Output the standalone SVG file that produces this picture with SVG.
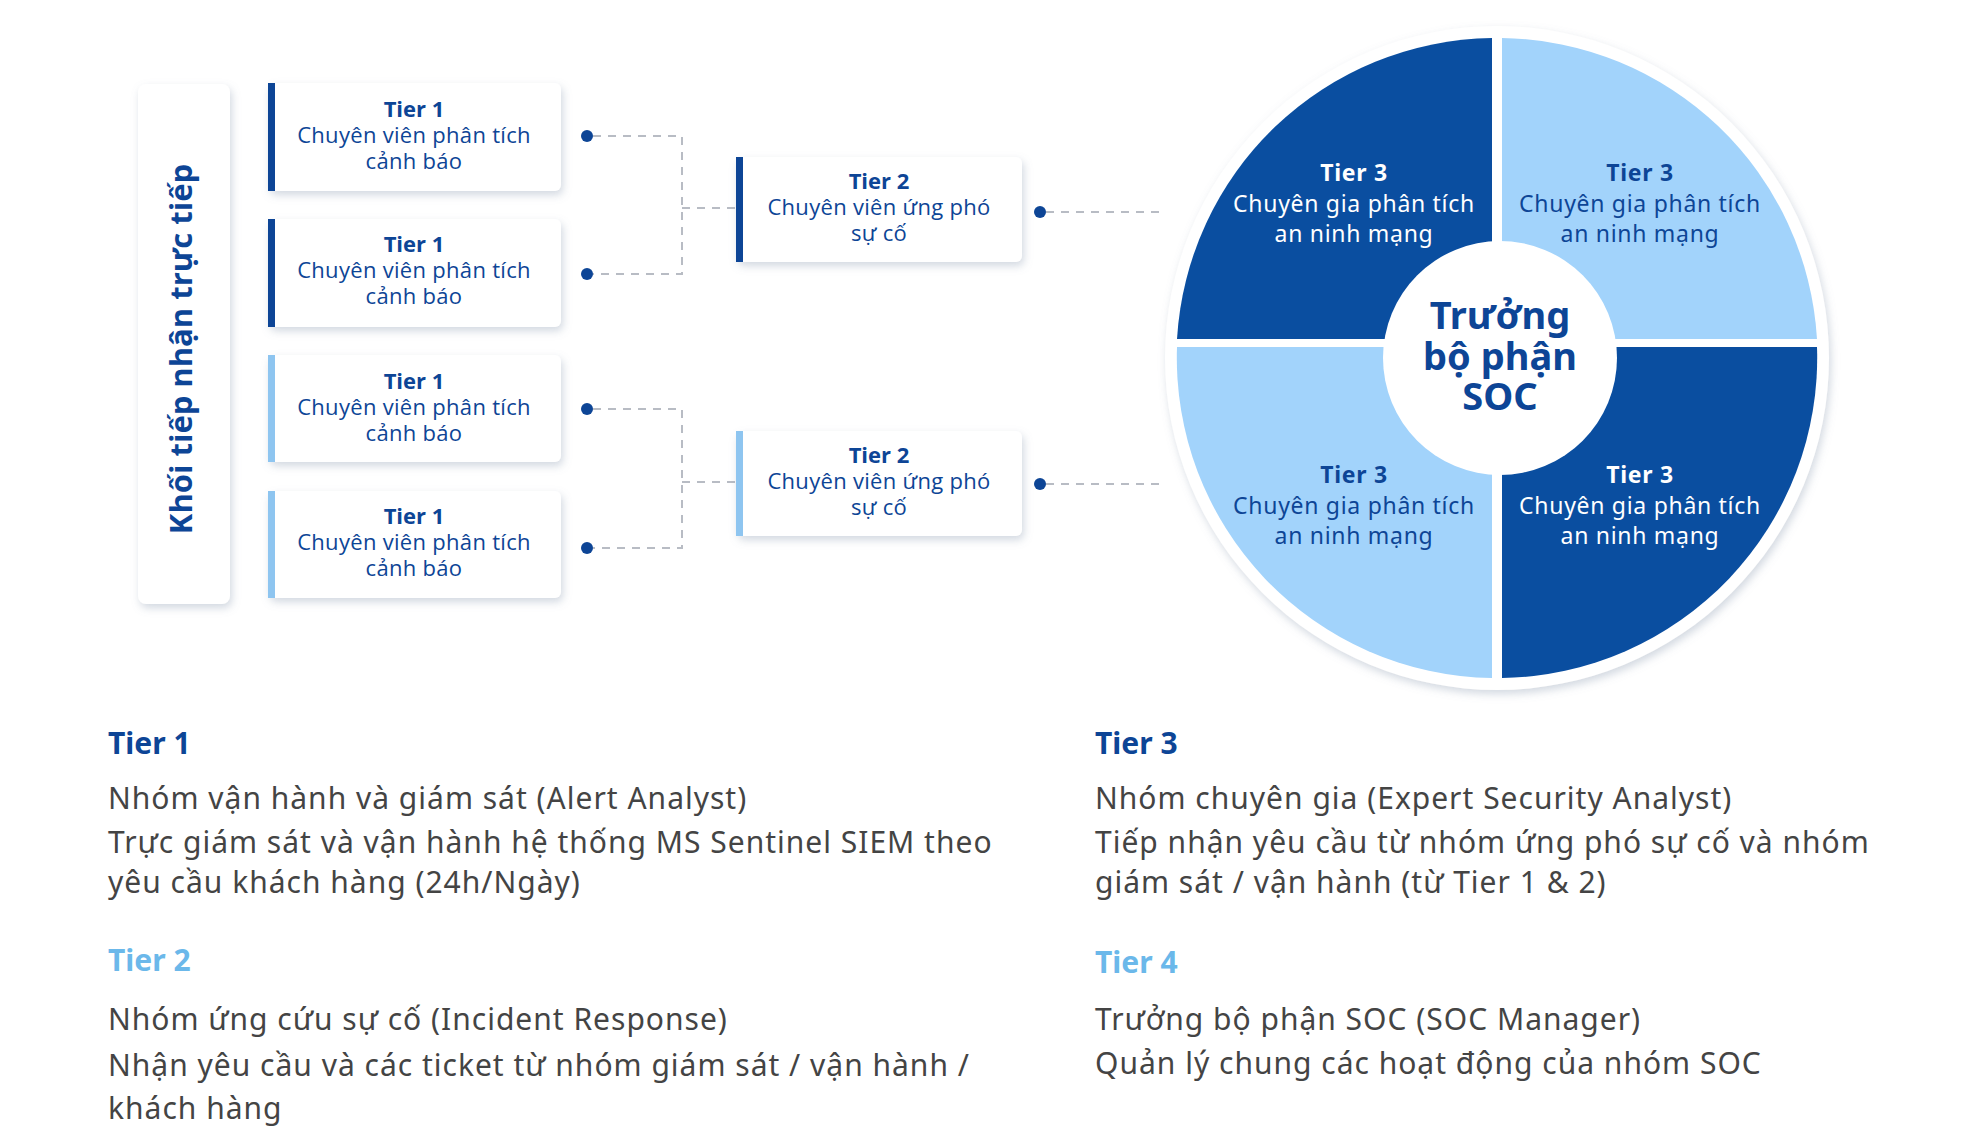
<svg xmlns="http://www.w3.org/2000/svg" width="1969" height="1141" viewBox="0 0 1969 1141">
<defs>
<filter id="sh" x="-20%" y="-20%" width="140%" height="150%"><feDropShadow dx="2" dy="4" stdDeviation="4" flood-color="#8090a8" flood-opacity="0.35"/></filter>
<style>
.box{fill:#fff;filter:url(#sh)}
.t{font-family:"Open Sans","Noto Sans",sans-serif;fill:#0d4596;text-anchor:middle}
.tb{font-weight:700;font-size:22px}
.tn{font-size:22px;letter-spacing:0.3px}
.q{font-family:"Noto Sans","Open Sans",sans-serif;text-anchor:middle;font-size:23px;letter-spacing:0.7px}
.c{font-family:"Noto Sans","Open Sans",sans-serif;text-anchor:middle;font-size:38px;font-weight:700;fill:#0d4596}
.d{stroke:#b8bcc4;stroke-width:2;stroke-dasharray:8 7;fill:none}
.b{font-family:"Noto Sans","Open Sans",sans-serif;fill:#444;font-size:30px;letter-spacing:1px}
.h{font-family:"Noto Sans","Open Sans",sans-serif;font-weight:700;font-size:30px}
</style>
</defs>
<rect width="1969" height="1141" fill="#fff"/>
<g id="label"><rect class="box" x="138" y="84" width="92" height="520" rx="8"/>
<text class="t" transform="translate(192,349) rotate(-90)" font-size="31" font-weight="700">Khối tiếp nhận trực tiếp</text></g>
<g id="connectors">
<path class="d" d="M593 136H682V274H593M682 208H736M593 409H682V548H593M682 482H736M1046 212H1160M1046 484H1160"/>
<g fill="#0d4596"><circle cx="587" cy="136" r="6"/><circle cx="587" cy="274" r="6"/><circle cx="587" cy="409" r="6"/><circle cx="587" cy="548" r="6"/><circle cx="1040" cy="212" r="6"/><circle cx="1040" cy="484" r="6"/></g>
</g>
<g id="t1a"><rect class="box" x="268" y="83" width="293" height="108" rx="6"/><rect x="268" y="83" width="7" height="108" fill="#0d4596"/>
<text class="t tb" x="414" y="117">Tier 1</text><text class="t tn" x="414" y="143">Chuyên viên phân tích</text><text class="t tn" x="414" y="169">cảnh báo</text></g>
<g id="t1b"><rect class="box" x="268" y="219" width="293" height="108" rx="6"/><rect x="268" y="219" width="7" height="108" fill="#0d4596"/>
<text class="t tb" x="414" y="252">Tier 1</text><text class="t tn" x="414" y="278">Chuyên viên phân tích</text><text class="t tn" x="414" y="304">cảnh báo</text></g>
<g id="t1c"><rect class="box" x="268" y="355" width="293" height="107" rx="6"/><rect x="268" y="355" width="7" height="107" fill="#8ec5f0"/>
<text class="t tb" x="414" y="389">Tier 1</text><text class="t tn" x="414" y="415">Chuyên viên phân tích</text><text class="t tn" x="414" y="441">cảnh báo</text></g>
<g id="t1d"><rect class="box" x="268" y="491" width="293" height="107" rx="6"/><rect x="268" y="491" width="7" height="107" fill="#8ec5f0"/>
<text class="t tb" x="414" y="524">Tier 1</text><text class="t tn" x="414" y="550">Chuyên viên phân tích</text><text class="t tn" x="414" y="576">cảnh báo</text></g>
<g id="t2a"><rect class="box" x="736" y="157" width="286" height="105" rx="6"/><rect x="736" y="157" width="7" height="105" fill="#0d4596"/>
<text class="t tb" x="879" y="189">Tier 2</text><text class="t tn" x="879" y="215">Chuyên viên ứng phó</text><text class="t tn" x="879" y="241">sự cố</text></g>
<g id="t2b"><rect class="box" x="736" y="431" width="286" height="105" rx="6"/><rect x="736" y="431" width="7" height="105" fill="#8ec5f0"/>
<text class="t tb" x="879" y="463">Tier 2</text><text class="t tn" x="879" y="489">Chuyên viên ứng phó</text><text class="t tn" x="879" y="515">sự cố</text></g>
<g id="soc">
<circle cx="1497" cy="358" r="332" fill="#fff" filter="url(#sh)"/>
<path d="M1492 339V38A320 320 0 0 0 1177 339Z" fill="#0a4ea0"/>
<path d="M1502 339V38A320 320 0 0 1 1817 339Z" fill="#a2d3fb"/>
<path d="M1492 347V678A320 320 0 0 1 1177 347Z" fill="#a2d3fb"/>
<path d="M1502 347V678A320 320 0 0 0 1817 347Z" fill="#0a4ea0"/>
<circle cx="1500" cy="358" r="117" fill="#fff"/>
<g class="q"><text x="1354" y="181" fill="#fff" font-weight="700">Tier 3</text><text x="1354" y="212" fill="#fff">Chuyên gia phân tích</text><text x="1354" y="242" fill="#fff">an ninh mạng</text>
<text x="1640" y="181" fill="#0d4596" font-weight="700">Tier 3</text><text x="1640" y="212" fill="#0d4596">Chuyên gia phân tích</text><text x="1640" y="242" fill="#0d4596">an ninh mạng</text>
<text x="1354" y="483" fill="#0d4596" font-weight="700">Tier 3</text><text x="1354" y="514" fill="#0d4596">Chuyên gia phân tích</text><text x="1354" y="544" fill="#0d4596">an ninh mạng</text>
<text x="1640" y="483" fill="#fff" font-weight="700">Tier 3</text><text x="1640" y="514" fill="#fff">Chuyên gia phân tích</text><text x="1640" y="544" fill="#fff">an ninh mạng</text></g>
<text class="c" x="1500" y="329">Trưởng</text><text class="c" x="1500" y="370">bộ phận</text><text class="c" x="1500" y="410">SOC</text>
</g>
<g id="legend">
<text class="h" x="108" y="754" fill="#0d4596">Tier 1</text>
<text class="b" x="108" y="809">Nhóm vận hành và giám sát (Alert Analyst)</text>
<text class="b" x="108" y="853">Trực giám sát và vận hành hệ thống MS Sentinel SIEM theo</text>
<text class="b" x="108" y="893">yêu cầu khách hàng (24h/Ngày)</text>
<text class="h" x="108" y="971" fill="#6bb8ea">Tier 2</text>
<text class="b" x="108" y="1030">Nhóm ứng cứu sự cố (Incident Response)</text>
<text class="b" x="108" y="1076">Nhận yêu cầu và các ticket từ nhóm giám sát / vận hành /</text>
<text class="b" x="108" y="1119">khách hàng</text>
<text class="h" x="1095" y="754" fill="#0d4596">Tier 3</text>
<text class="b" x="1095" y="809">Nhóm chuyên gia (Expert Security Analyst)</text>
<text class="b" x="1095" y="853">Tiếp nhận yêu cầu từ nhóm ứng phó sự cố và nhóm</text>
<text class="b" x="1095" y="893">giám sát / vận hành (từ Tier 1 &amp; 2)</text>
<text class="h" x="1095" y="973" fill="#6bb8ea">Tier 4</text>
<text class="b" x="1095" y="1030">Trưởng bộ phận SOC (SOC Manager)</text>
<text class="b" x="1095" y="1074">Quản lý chung các hoạt động của nhóm SOC</text>
</g>
</svg>
